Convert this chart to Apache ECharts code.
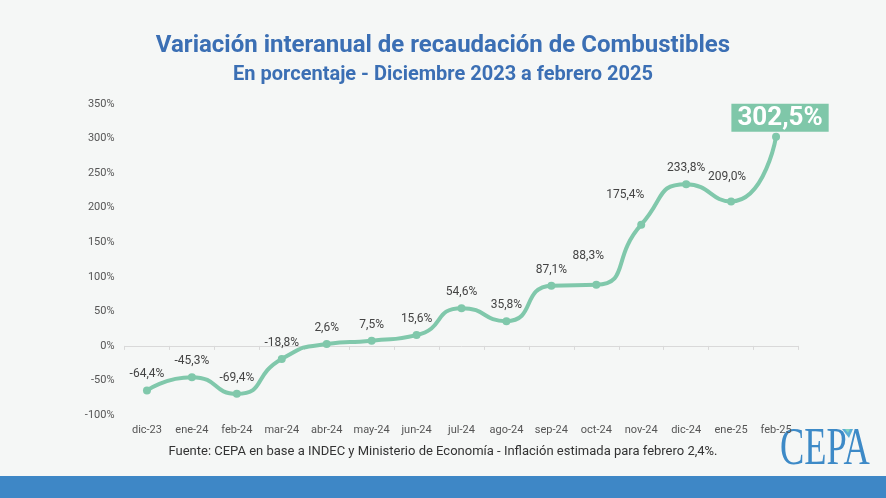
<!DOCTYPE html>
<html><head><meta charset="utf-8">
<script src="https://cdn.jsdelivr.net/npm/echarts@6/dist/echarts.min.js"></script>
<style>html,body{margin:0;padding:0;background:#f5f7f6}#c{width:886px;height:498px}</style>
</head><body><div id="c"></div>
<script>
const categories = ['dic-23','ene-24','feb-24','mar-24','abr-24','may-24','jun-24','jul-24','ago-24','sep-24','oct-24','nov-24','dic-24','ene-25','feb-25'];
const values = [-64.4,-45.3,-69.4,-18.8,2.6,7.5,15.6,54.6,35.8,87.1,88.3,175.4,233.8,209.0,302.5];
const yTicks = {min:-100, max:350, interval:50};
const titleText = 'Variación interanual de recaudación de Combustibles';
const subtitleText = 'En porcentaje - Diciembre 2023 a febrero 2025';
const sourceText = 'Fuente: CEPA en base a INDEC y Ministerio de Economía - Inflación estimada para febrero 2,4%.';

const fmt = v => v.toFixed(1).replace('.', ',') + '%';
const labelOffsets = {10:[-8,-13], 11:[-16,-14], 13:[-4,-8]};
const last = values.length - 1;
const seriesData = values.map((v,i) => {
  const item = {value: v};
  if (labelOffsets[i]) item.label = {offset: labelOffsets[i]};
  if (i === last) item.label = {
    fontSize: 26, fontWeight: 'bold', color: '#ffffff', backgroundColor: '#7fc7a9',
    padding: [2, 6, 0, 6], distance: 1, offset:[4,0], lineHeight: 26
  };
  return item;
});

const chart = echarts.init(document.getElementById('c'), null, {renderer:'canvas'});
chart.setOption({
  backgroundColor: '#f5f7f6',
  animation: false,
  title: [{
    text: titleText, left: 'center', top: 29,
    textStyle: {fontFamily:'Roboto', fontSize: 24, fontWeight: 'bold', color: '#3b6fb4'}
  },{
    text: subtitleText, left: 'center', top: 60,
    textStyle: {fontFamily:'Roboto', fontSize: 20, fontWeight: 'bold', color: '#3b6fb4'}
  }],
  grid: {left: 124.5, right: 87.5, top: 104, bottom: 83},
  xAxis: [{
    type: 'category', data: categories, position: 'bottom',
    axisLine: {show: false, onZero: false}, axisTick: {show: false},
    axisLabel: {interval: 0, fontFamily:'Roboto', fontSize: 11, color: '#555', margin: 10}
  },{
    type: 'category', data: categories, position: 'bottom',
    axisLine: {show: true, onZero: true, lineStyle: {color: '#d9d9d9', width: 1}},
    axisTick: {show: true, interval: 0, length: 4, lineStyle: {color: '#d9d9d9'}},
    axisLabel: {show: false}
  }],
  yAxis: {
    type: 'value', min: yTicks.min, max: yTicks.max, interval: yTicks.interval,
    splitLine: {show: false}, axisLine: {show: false}, axisTick: {show: false},
    axisLabel: {fontFamily:'Roboto', fontSize: 11, color: '#555', margin: 10, formatter: v => v + '%'}
  },
  series: [{
    type: 'line', data: seriesData, smooth: 0.6, xAxisIndex: 0,
    symbol: 'circle', symbolSize: 8,
    lineStyle: {color: '#80c8ab', width: 4},
    itemStyle: {color: '#80c8ab'},
    label: {show: true, position: 'top', distance: 6, fontFamily:'Roboto', fontSize: 12, color: '#444',
      formatter: p => fmt(p.value)}
  }],
  graphic: [
    {type:'text', left: 'center', top: 445, style: {text: sourceText, font: '13px Roboto', fill: '#333'}},
    {type:'rect', shape:{x:0, y:476, width:886, height:22}, style:{fill:'#3e87c6'}},
    {type:'text', x: 780, y: 424, scaleX: 0.7, style: {text: 'CEPA', font: '52px "Liberation Serif"', fill: '#3d8ac7'}},
    {type:'polygon', shape:{points:[[842,429],[853,429],[849,438]]}, style:{fill:'#5aaed6'}},
    {type:'polygon', shape:{points:[[845,429],[850,429],[848,433]]}, style:{fill:'#7fd3c0'}}
  ]
});
</script></body></html>
